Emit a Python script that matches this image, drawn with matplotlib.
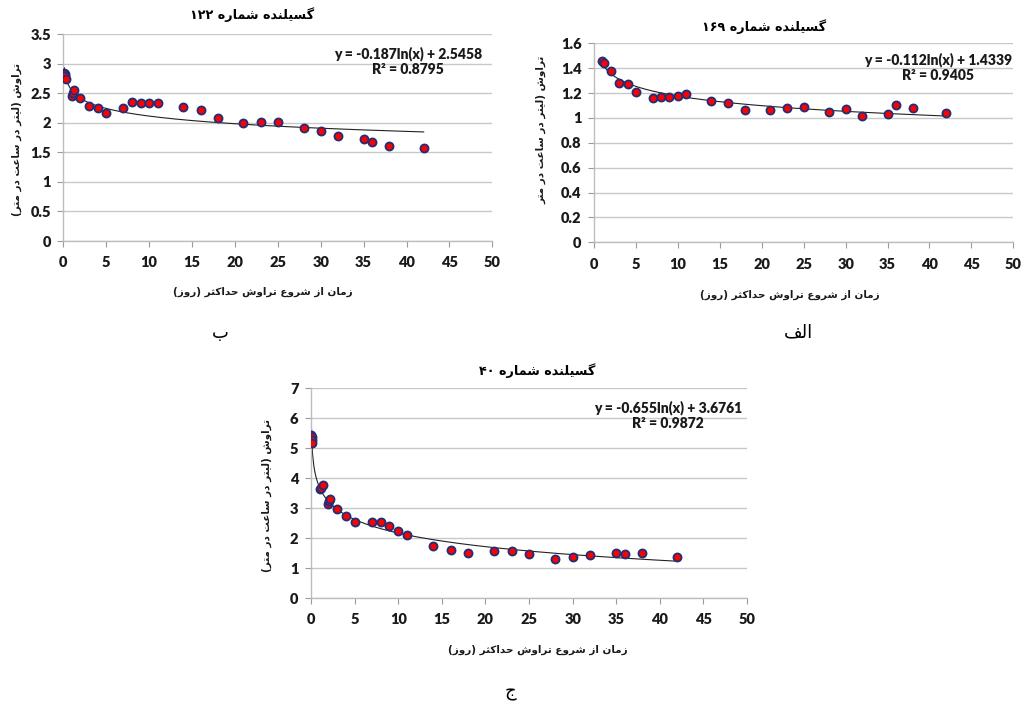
import re
import numpy as np
import matplotlib
matplotlib.use("Agg")
import matplotlib.pyplot as plt

# ---- data ----
# panel "ب" : emitter 122
x_122 = [0.125, 0.17, 0.25, 0.33, 1.0, 1.1, 1.25, 2, 3, 4, 5, 7, 8, 9, 10, 11,
         14, 16, 18, 21, 23, 25, 28, 30, 32, 35, 36, 38, 42]
y_122 = [2.85, 2.83, 2.79, 2.74, 2.46, 2.50, 2.55, 2.42, 2.28, 2.25, 2.17, 2.26, 2.35, 2.34,
         2.34, 2.34, 2.27, 2.21, 2.08, 1.99, 2.02, 2.02, 1.91, 1.86, 1.78, 1.73, 1.68, 1.61, 1.57]
fit_122 = (-0.187, 2.5458)
r2_122 = 0.8795

# panel "الف" : emitter 169
x_169 = [1.0, 1.2, 2, 3, 4, 5, 7, 8, 9, 10, 11, 14, 16, 18, 21, 23, 25, 28, 30, 32, 35, 36, 38, 42]
y_169 = [1.46, 1.44, 1.38, 1.28, 1.27, 1.21, 1.16, 1.166, 1.166, 1.18, 1.195, 1.134, 1.118,
         1.067, 1.061, 1.077, 1.088, 1.045, 1.072, 1.016, 1.035, 1.10, 1.083, 1.04]
fit_169 = (-0.112, 1.4339)
r2_169 = 0.9405

# panel "ج" : emitter 40
x_40 = [0.04, 0.08, 0.125, 0.17, 1.0, 1.2, 1.4, 2.0, 2.1, 2.2, 3, 4, 5, 7, 8, 9, 10, 11,
        14, 16, 18, 21, 23, 25, 28, 30, 32, 35, 36, 38, 42]
y_40 = [5.44, 5.36, 5.27, 5.16, 3.63, 3.68, 3.76, 3.14, 3.25, 3.32, 2.98, 2.75, 2.54, 2.55,
        2.55, 2.41, 2.24, 2.09, 1.75, 1.61, 1.49, 1.56, 1.58, 1.46, 1.30, 1.36, 1.42, 1.50,
        1.47, 1.50, 1.36]
fit_40 = (-0.655, 3.6761)
r2_40 = 0.9872

title_fmt = "گسیلنده شماره {}"
ylabel_txt = "تراوش (لیتر در ساعت در متر)"
ylabel_txt_169 = "تراوش (لیتر در ساعت در متر"
xlabel_txt = "زمان از شروع تراوش حداکثر (روز)"

# ---- minimal arabic shaping + visual ordering (matplotlib does no shaping) ----
FORMS = {
    'ا': (0xFE8D, 0xFE8E), 'د': (0xFEA9, 0xFEAA), 'ر': (0xFEAD, 0xFEAE),
    'ز': (0xFEAF, 0xFEB0), 'و': (0xFEED, 0xFEEE),
    'ب': (0xFE8F, 0xFE90, 0xFE91, 0xFE92), 'ت': (0xFE95, 0xFE96, 0xFE97, 0xFE98),
    'ث': (0xFE99, 0xFE9A, 0xFE9B, 0xFE9C), 'ج': (0xFE9D, 0xFE9E, 0xFE9F, 0xFEA0),
    'ح': (0xFEA1, 0xFEA2, 0xFEA3, 0xFEA4), 'س': (0xFEB1, 0xFEB2, 0xFEB3, 0xFEB4),
    'ش': (0xFEB5, 0xFEB6, 0xFEB7, 0xFEB8), 'ع': (0xFEC9, 0xFECA, 0xFECB, 0xFECC),
    'ف': (0xFED1, 0xFED2, 0xFED3, 0xFED4), 'ل': (0xFEDD, 0xFEDE, 0xFEDF, 0xFEE0),
    'م': (0xFEE1, 0xFEE2, 0xFEE3, 0xFEE4), 'ن': (0xFEE5, 0xFEE6, 0xFEE7, 0xFEE8),
    'ه': (0xFEE9, 0xFEEA, 0xFEEB, 0xFEEC), 'ک': (0xFB8E, 0xFB8F, 0xFB90, 0xFB91),
    'گ': (0xFB92, 0xFB93, 0xFB94, 0xFB95), 'ی': (0xFBFC, 0xFBFD, 0xFBFE, 0xFBFF),
}


def fa(text):
    out = []
    for i, c in enumerate(text):
        if c not in FORMS:
            out.append(c)
            continue
        f = FORMS[c]
        prev = text[i - 1] if i > 0 else ''
        nxt = text[i + 1] if i + 1 < len(text) else ''
        jp = prev in FORMS and len(FORMS[prev]) == 4
        jn = len(f) == 4 and nxt in FORMS
        if jp and jn:
            g = f[3]
        elif jp:
            g = f[1]
        elif jn:
            g = f[2]
        else:
            g = f[0]
        out.append(chr(g))
    s = ''.join(out)[::-1]
    s = s.translate(str.maketrans('()', ')('))
    s = re.sub(r'[0-9۰-۹]+', lambda m: m.group(0)[::-1], s)
    return s


def to_fa_digits(n):
    return str(n).translate(str.maketrans('0123456789', '۰۱۲۳۴۵۶۷۸۹'))


W, H = 1024, 708
fig = plt.figure(figsize=(W / 100, H / 100), dpi=100)
plt.rcParams['font.family'] = ['Lato', 'DejaVu Sans']

FA_FONT = 'DejaVu Sans'
GRID = '#c8c8c8'


def px(x, y):
    return x / W, 1 - y / H


def panel(rect, xs, ys, fit, r2, ymax, ystep, yfmt, title, tpos, eqpos, xlpos, ylpos, ylabel):
    ax = fig.add_axes(rect)
    xs = np.array(xs)
    xt = np.linspace(xs.min(), xs.max(), 300)
    ax.plot(xt, fit[0] * np.log(xt) + fit[1], color='#222222', lw=0.8, zorder=2)
    ax.plot(xs, ys, 'o', ms=5.8, mfc='#ff0000', mec='#1f2f78', mew=1.3, zorder=3)
    ax.set_xlim(0, 50)
    ax.set_ylim(0, ymax)
    ax.set_xticks(np.arange(0, 51, 5))
    yt = np.arange(0, ymax + ystep / 2, ystep)
    ax.set_yticks(yt)
    ax.set_yticklabels([yfmt(v) for v in yt])
    ax.yaxis.grid(True, color=GRID, lw=1.0)
    ax.set_axisbelow(True)
    for s in ['top', 'right']:
        ax.spines[s].set_visible(False)
    for s in ['left', 'bottom']:
        ax.spines[s].set_color('#bdbdbd')
        ax.spines[s].set_linewidth(1.0)
    ax.tick_params(axis='both', colors='#9a9a9a', length=4, width=0.8,
                   labelcolor='#1a1a1a', labelsize=10.5)
    ax.tick_params(axis='x', pad=7)
    ax.tick_params(axis='y', pad=5)
    for lab in ax.get_xticklabels() + ax.get_yticklabels():
        lab.set_fontweight('heavy')
    eq = "y = {}ln(x) + {}\nR² = {}".format(fit[0], fit[1], r2)
    fig.text(*px(*eqpos), eq, ha='center', va='center', fontsize=10, fontweight='heavy',
             multialignment='center', linespacing=1.2, color='#1a1a1a')
    fig.text(*px(*tpos), fa(title), ha='center', va='center', fontsize=9.2,
             fontweight='bold', family=FA_FONT)
    fig.text(*px(*xlpos), fa(xlabel_txt), ha='center', va='center', fontsize=7.5,
             fontweight='bold', family=FA_FONT, color='#1a1a1a')
    fig.text(*px(*ylpos), fa(ylabel), ha='center', va='center', fontsize=7.5,
             fontweight='bold', family=FA_FONT, rotation=90, color='#1a1a1a')
    return ax


panel([63.3 / W, 1 - 241 / H, 429 / W, 206.7 / H], x_122, y_122, fit_122, r2_122,
      3.5, 0.5, lambda v: '{:g}'.format(v), title_fmt.format(to_fa_digits(122)),
      (252, 15), (408, 61), (263, 292), (17, 140), ylabel_txt)

panel([594 / W, 1 - 242.3 / H, 419.3 / W, 199 / H], x_169, y_169, fit_169, r2_169,
      1.6, 0.2, lambda v: '{:g}'.format(round(v, 1)), title_fmt.format(to_fa_digits(169)),
      (764, 27), (938, 67), (790, 295), (541, 130), ylabel_txt_169)

panel([311 / W, 1 - 598 / H, 436 / W, 209.7 / H], x_40, y_40, fit_40, r2_40,
      7, 1, lambda v: '{:g}'.format(v), title_fmt.format(to_fa_digits(40)),
      (537, 371), (668, 415), (538, 650), (267, 495), ylabel_txt)

fig.text(*px(220, 333), fa("ب"), ha='center', va='center', fontsize=13, family=FA_FONT)
fig.text(*px(798, 332), fa("الف"), ha='center', va='center', fontsize=13, family=FA_FONT)
fig.text(*px(510, 692), fa("ج"), ha='center', va='center', fontsize=13, family=FA_FONT)

fig.savefig('out.png', dpi=100)
